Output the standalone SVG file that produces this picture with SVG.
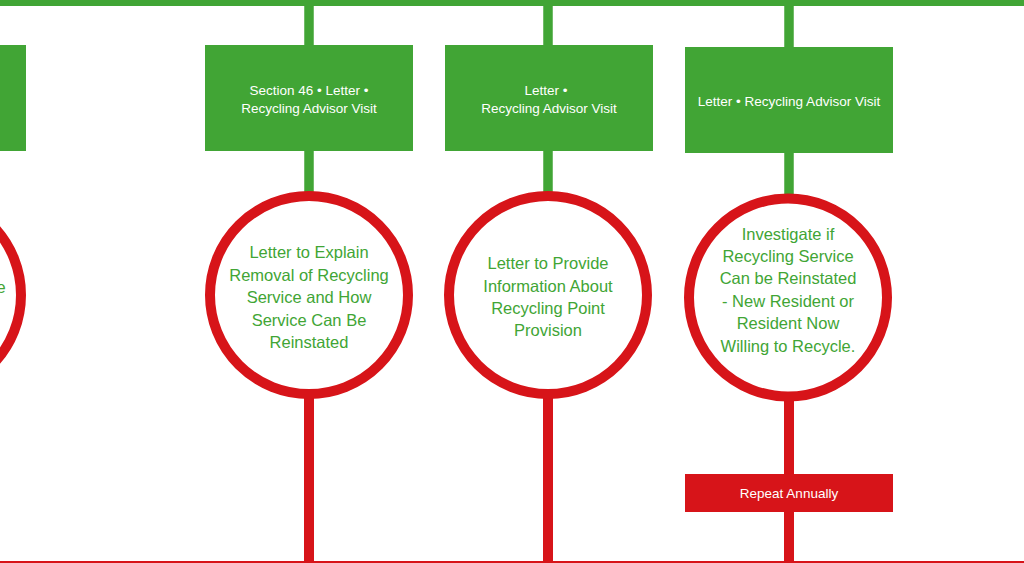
<svg xmlns="http://www.w3.org/2000/svg" width="1024" height="563" viewBox="0 0 1024 563">
<style>
.box{fill:#41a535}
.rbox{fill:#d71419}
.ring{fill:#fff;stroke:#d71419;stroke-width:10}
.gl{stroke:#41a535;stroke-width:9.5}
.rl{stroke:#d71419;stroke-width:10}
.bt{font-family:"Liberation Sans",Arial,sans-serif;font-size:13.5px;fill:#fff;text-anchor:middle}
.ct{font-family:"Liberation Sans",Arial,sans-serif;font-size:16.5px;fill:#41a535;text-anchor:middle}
</style>
<rect width="1024" height="563" fill="#fff"/>
<g id="connectors">
<rect x="0" y="0" width="1024" height="6" fill="#41a535"/>
<line class="gl" x1="309" y1="5" x2="309" y2="46"/>
<line class="gl" x1="309" y1="150" x2="309" y2="193"/>
<line class="gl" x1="548" y1="5" x2="548" y2="46"/>
<line class="gl" x1="548" y1="150" x2="548" y2="193"/>
<line class="gl" x1="789" y1="5" x2="789" y2="48"/>
<line class="gl" x1="789" y1="152" x2="789" y2="194"/>
<line class="rl" x1="309" y1="396" x2="309" y2="563"/>
<line class="rl" x1="548" y1="396" x2="548" y2="563"/>
<line class="rl" x1="789" y1="399" x2="789" y2="563"/>
<rect x="0" y="561" width="1024" height="2" fill="#d71419"/>
</g>
<g id="box0"><rect class="box" x="0" y="45" width="26" height="106"/></g>
<g id="circle0"><circle class="ring" cx="-78" cy="295" r="99"/><text class="ct" x="1" y="293" text-anchor="start">e</text></g>
<g id="box1"><rect class="box" x="205" y="45" width="208" height="106"/>
<text class="bt" x="309" y="95">Section 46 • Letter •</text>
<text class="bt" x="309" y="113">Recycling Advisor Visit</text></g>
<g id="box2"><rect class="box" x="445" y="45" width="208" height="106"/>
<text class="bt" x="546" y="95">Letter •</text>
<text class="bt" x="549" y="113">Recycling Advisor Visit</text></g>
<g id="box3"><rect class="box" x="685" y="47" width="208" height="106"/>
<text class="bt" x="789" y="106">Letter • Recycling Advisor Visit</text></g>
<g id="circle1"><circle class="ring" cx="309" cy="295" r="99"/>
<text class="ct" x="309" y="258">Letter to Explain</text>
<text class="ct" x="309" y="281">Removal of Recycling</text>
<text class="ct" x="309" y="303">Service and How</text>
<text class="ct" x="309" y="326">Service Can Be</text>
<text class="ct" x="309" y="348">Reinstated</text></g>
<g id="circle2"><circle class="ring" cx="548" cy="295" r="99"/>
<text class="ct" x="548" y="269">Letter to Provide</text>
<text class="ct" x="548" y="292">Information About</text>
<text class="ct" x="548" y="314">Recycling Point</text>
<text class="ct" x="548" y="336">Provision</text></g>
<g id="circle3"><circle class="ring" cx="788" cy="297.5" r="99"/>
<text class="ct" x="788" y="240">Investigate if</text>
<text class="ct" x="788" y="262">Recycling Service</text>
<text class="ct" x="788" y="284">Can be Reinstated</text>
<text class="ct" x="788" y="307">- New Resident or</text>
<text class="ct" x="788" y="329">Resident Now</text>
<text class="ct" x="788" y="352">Willing to Recycle.</text></g>
<g id="repeat"><rect class="rbox" x="685" y="474" width="208" height="38"/>
<text class="bt" x="789" y="498">Repeat Annually</text></g>
</svg>
